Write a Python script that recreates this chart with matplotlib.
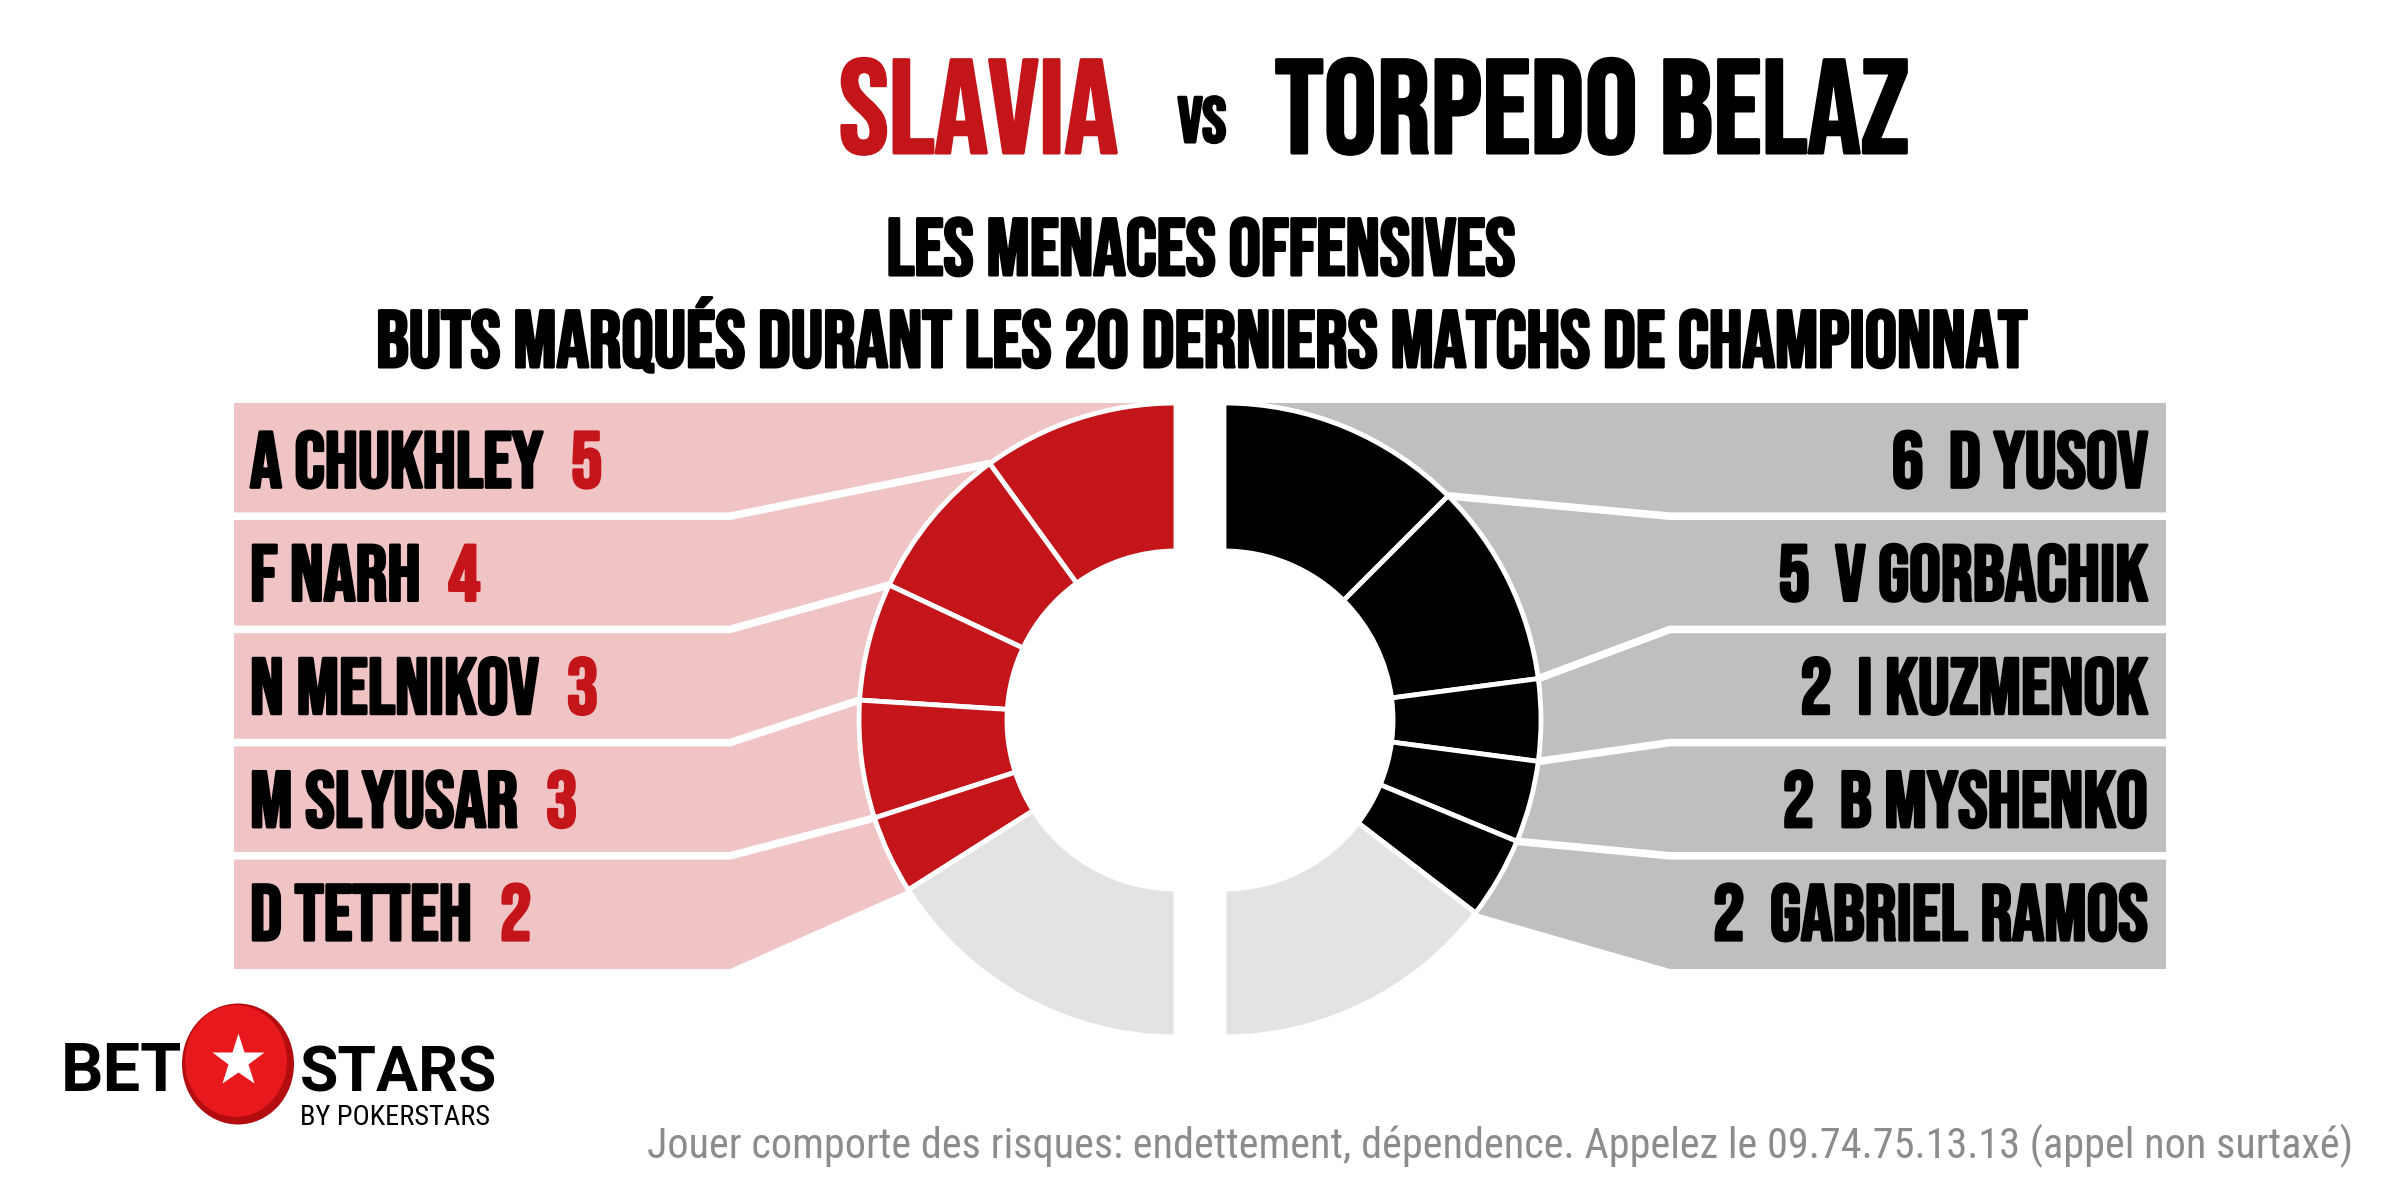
import numpy as np
import matplotlib
matplotlib.use('Agg')
import matplotlib.pyplot as plt
import matplotlib.patheffects as pe
from matplotlib import font_manager
from matplotlib.patches import Polygon, Ellipse

# --- data ---
home_team = 'SLAVIA'
away_team = 'TORPEDO BELAZ'
title_line1 = 'LES MENACES OFFENSIVES'
title_line2 = 'BUTS MARQUÉS DURANT LES 20 DERNIERS MATCHS DE CHAMPIONNAT'

home_players = ['A CHUKHLEY', 'F NARH', 'N MELNIKOV', 'M SLYUSAR', 'D TETTEH']
home_goals = [5, 4, 3, 3, 2]
home_total = 25

away_players = ['D YUSOV', 'V GORBACHIK', 'I KUZMENOK', 'B MYSHENKO', 'GABRIEL RAMOS']
away_goals = [6, 5, 2, 2, 2]
away_total = 24

disclaimer = ('Jouer comporte des risques: endettement, dépendence. '
              'Appelez le 09.74.75.13.13 (appel non surtaxé)')

RED = '#c4161a'
PINK = '#f0c4c5'
BOX_GREY = '#bfbfbf'
REST_GREY = '#e3e3e3'

available = {f.name for f in font_manager.fontManager.ttflist}


def pick(names, default='DejaVu Sans'):
    return next((n for n in names if n in available), default)


FONT = [pick(['Bebas Neue', 'Oswald', 'Roboto Condensed', 'Liberation Sans Narrow']), 'DejaVu Sans']
LOGO = [pick(['Roboto', 'Liberation Sans Narrow']), 'DejaVu Sans']
SMALL = [pick(['Roboto Condensed', 'Liberation Sans Narrow', 'Roboto']), 'DejaVu Sans']


def heavy(color):
    return [pe.withStroke(linewidth=2.2, foreground=color)]


# layout in pixels (y up)
cy, R, ring = 480, 317, 148
home_cx, away_cx = 1176, 1224
row_top, row_bottom = 797, 231
box_left, box_right = 234, 2166
elbow_left, elbow_right = 730, 1670
row_h = (row_top - row_bottom) / 5

fig = plt.figure(figsize=(24, 12), dpi=100)
ax = fig.add_axes([0, 0, 1, 1])

wp = dict(width=ring, edgecolor='white', linewidth=3.5, zorder=3)


def half_donut(goals, total, color, cx, counterclock):
    # the hidden last slice is the other half of the circle
    vals = goals + [total - sum(goals), total]
    wedges, _ = ax.pie(vals, colors=[color] * len(goals) + [REST_GREY, 'none'],
                       startangle=90, counterclock=counterclock, radius=R,
                       center=(cx, cy), wedgeprops=wp)
    wedges[-1].set_visible(False)


half_donut(home_goals, home_total, RED, home_cx, True)
half_donut(away_goals, away_total, 'black', away_cx, False)

home_angles = 90 + np.cumsum(home_goals) * 180 / home_total
away_angles = 90 - np.cumsum(away_goals) * 180 / away_total


def on_ring(cx, ang):
    a = np.radians(ang)
    return cx + R * np.cos(a), cy + R * np.sin(a)


def label_band(cx, angles, edge, elbow, color):
    arc = np.linspace(90, angles[-1], 80)
    pts = [(edge, row_top), (cx, row_top)] + [on_ring(cx, a) for a in arc]
    pts += [(elbow, row_bottom), (edge, row_bottom)]
    ax.add_patch(Polygon(pts, closed=True, facecolor=color, edgecolor='none', zorder=1))
    for k in range(4):
        y = row_top - (k + 1) * row_h
        px, py = on_ring(cx, angles[k])
        ax.plot([edge, elbow, px], [y, y, py], color='white', lw=5.5,
                solid_capstyle='butt', solid_joinstyle='miter', zorder=2)


label_band(home_cx, home_angles, box_left, elbow_left, PINK)
label_band(away_cx, away_angles, box_right, elbow_right, BOX_GREY)

# player labels
fs = 57
cap = 0.7 * fs * 100 / 72
for k in range(5):
    yb = row_top - (k + 0.5) * row_h - cap / 2
    t = ax.text(250, yb, home_players[k], family=FONT, fontsize=fs, color='black',
                ha='left', va='baseline', zorder=5, path_effects=heavy('black'))
    ax.annotate(str(home_goals[k]), xy=(1, 0), xycoords=t, xytext=(20, 0),
                textcoords='offset points', family=FONT, fontsize=fs, color=RED,
                ha='left', va='bottom', zorder=5, path_effects=heavy(RED))
    ax.text(2148, yb, f'{away_goals[k]}  {away_players[k]}', family=FONT,
            fontsize=fs, color='black', ha='right', va='baseline', zorder=5,
            path_effects=heavy('black'))

# titles
ax.text(839, 1047, home_team, family=FONT, fontsize=96, color=RED,
        ha='left', va='baseline', path_effects=heavy(RED))
ax.text(1202, 1058, 'vs', family=FONT, fontsize=46, color='black',
        ha='center', va='baseline', path_effects=heavy('black'))
ax.text(1275, 1047, away_team, family=FONT, fontsize=96, color='black',
        ha='left', va='baseline', path_effects=heavy('black'))
ax.text(1200, 925, title_line1, family=FONT, fontsize=58, color='black',
        ha='center', va='baseline', path_effects=heavy('black'))
ax.text(1200, 833, title_line2, family=FONT, fontsize=58, color='black',
        ha='center', va='baseline', path_effects=heavy('black'))

# logo
ax.text(61, 109, 'BET', family=LOGO, fontweight='bold', fontsize=48,
        color='black', ha='left', va='baseline')
ax.text(300, 109, 'STARS', family=LOGO, fontweight='bold', fontsize=45,
        color='black', ha='left', va='baseline')
ax.text(300, 75, 'BY POKERSTARS', family=SMALL, fontsize=20.5,
        color='black', ha='left', va='baseline')
ax.add_patch(Ellipse((238, 136), 112, 121, facecolor='#b30d10', edgecolor='none', zorder=4))
ax.add_patch(Ellipse((236, 139), 102, 112, facecolor='#e8191c', edgecolor='none', zorder=4))
ax.plot([238], [139], marker='*', markersize=40, color='white', mec='none', zorder=5)

# disclaimer, sized to span the same width as in the original
foot = ax.text(2353, 42, disclaimer, family=SMALL, fontsize=30, color='#8c8c8c',
               ha='right', va='baseline')
w = foot.get_window_extent(renderer=fig.canvas.get_renderer()).width
foot.set_fontsize(30 * 1703 / w)

ax.set_xlim(0, 2400)
ax.set_ylim(0, 1200)
ax.set_aspect('equal')
ax.axis('off')
fig.savefig('out.png', dpi=100, facecolor='white')
